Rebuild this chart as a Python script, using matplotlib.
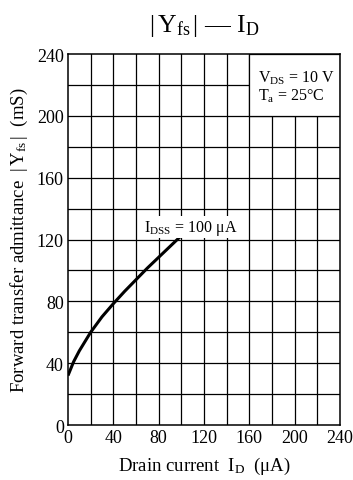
import matplotlib
matplotlib.use('Agg')
import matplotlib.pyplot as plt
from matplotlib.patches import Rectangle

# |Yfs| - ID curve, IDSS = 100 uA
drain_current = [0, 5, 10, 20, 30, 40, 50, 60, 70, 80, 90, 100]
admittance = [32, 41, 48, 60, 70, 78.5, 86.5, 94, 101.5, 108.5, 115.5, 122.5]
x_ticks = [0, 40, 80, 120, 160, 200, 240]
y_ticks = [0, 40, 80, 120, 160, 200, 240]
grid_steps = list(range(0, 241, 20))

plt.rcParams['font.family'] = ['Liberation Serif', 'DejaVu Serif']
plt.rcParams['mathtext.fontset'] = 'custom'
plt.rcParams['mathtext.rm'] = 'Liberation Serif'
plt.rcParams['mathtext.it'] = 'Liberation Serif:italic'

fig = plt.figure(figsize=(3.53, 4.81), dpi=100)
ax = fig.add_axes([0.1926, 0.1143, 0.7705, 0.7713])

for g in grid_steps[1:-1]:
    ax.axvline(g, color='black', lw=0.9, zorder=1)
    ax.axhline(g, color='black', lw=0.9, zorder=1)

# white box for the conditions
ax.add_patch(Rectangle((160, 200), 80, 40, facecolor='white', edgecolor='black',
                       lw=0.9, zorder=2))
ax.text(168, 225, r'$\mathregular{V_{DS}}$ = 10 V', fontsize=11.5, va='center', zorder=3)
ax.text(168, 213, r'$\mathregular{T_a}$ = 25°C', fontsize=11.5, va='center', zorder=3)

ax.plot(drain_current, admittance, color='black', lw=2.2, zorder=4,
        solid_capstyle='butt')
ax.text(108, 128, r'$\mathregular{I_{DSS}}$ = 100 μA', fontsize=11.5, ha='center',
        va='center', zorder=5,
        bbox=dict(facecolor='white', edgecolor='none', pad=1))

ax.set_xlim(0, 240)
ax.set_ylim(0, 240)
ax.set_xticks(x_ticks)
ax.set_yticks(y_ticks)
ax.tick_params(length=0, labelsize=13, pad=3)
for s in ax.spines.values():
    s.set_linewidth(1.1)
    s.set_zorder(6)

ax.set_xlabel(r'Drain current  $\mathregular{I_D}$  (μA)', fontsize=13.5, labelpad=6)
ax.set_ylabel(r'Forward transfer admittance  $\mathregular{|\,Y_{fs}\,|}$  (mS)',
              fontsize=13.5, labelpad=5)
fig.text(0.58, 0.945, r'$\mathregular{|\,Y_{fs}\,|}$ — $\mathregular{I_D}$', fontsize=18.5,
         ha='center', va='center')

fig.savefig('out.png', dpi=100)
